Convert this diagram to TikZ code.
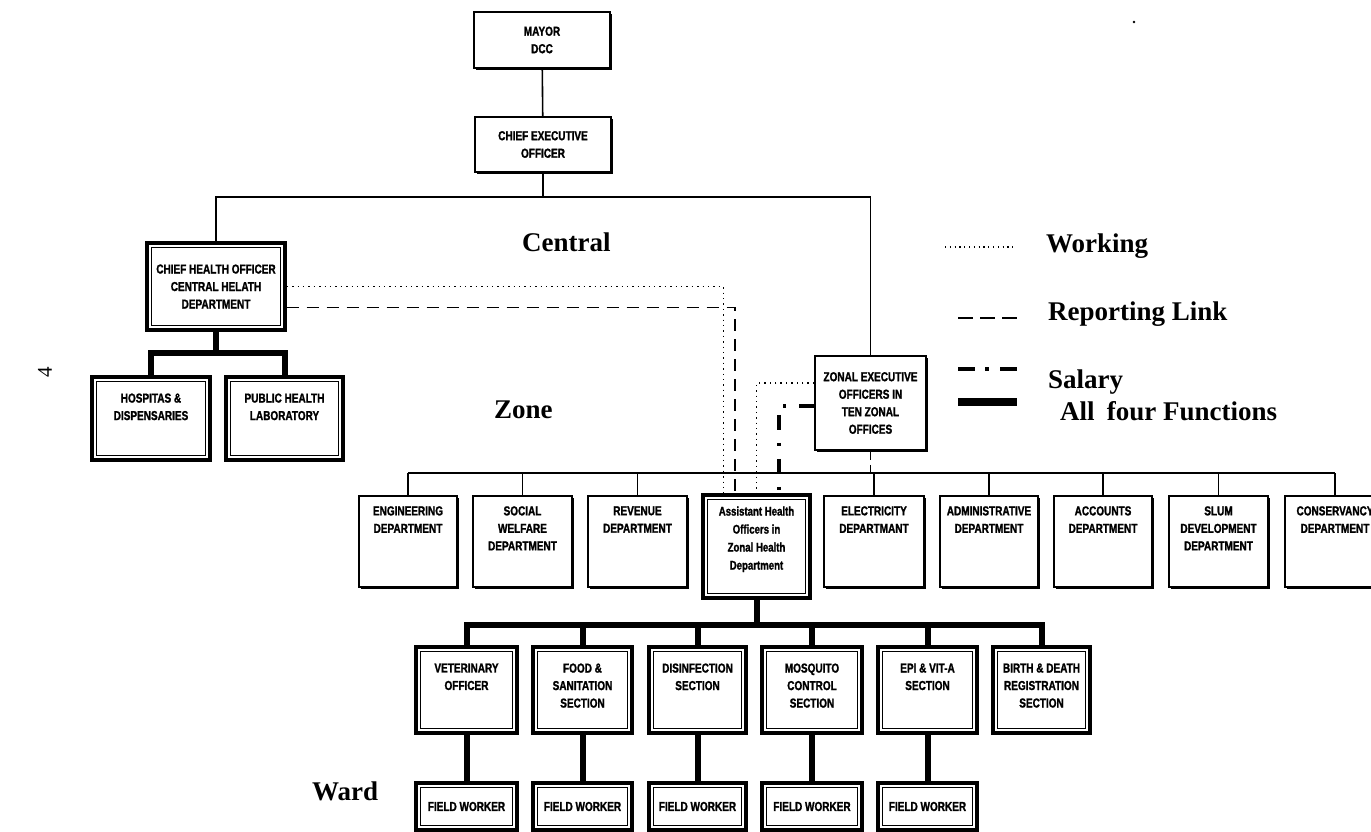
\documentclass[tikz,border=0pt]{standalone}
\usepackage{fontspec}
\setmainfont{Liberation Serif}
\newfontfamily\bx[FakeStretch=0.77,FakeBold=1.4]{Liberation Sans Bold}
\usetikzlibrary{shadows}
\begin{document}
\begin{tikzpicture}[x=1pt,y=-1pt,
  shd/.style={drop shadow={shadow xshift=2.2pt,shadow yshift=-2.2pt,opacity=1,fill=black}},
  box/.style={draw,fill=white,line width=1.8pt,shd,inner sep=0pt},
  dbox/.style={draw,fill=white,line width=3.4pt,shd,inner sep=0pt,
     path picture={\draw[line width=1.1pt] ([shift={(4.8pt,4.8pt)}]path picture bounding box.south west) rectangle ([shift={(-4.8pt,-4.8pt)}]path picture bounding box.north east);}},
  sz/.style 2 args={minimum width=#1pt,minimum height=#2pt},
  txt/.style={font=\bx\fontsize{13}{17.5}\selectfont,align=center,inner sep=0pt},
  lbl/.style={font=\bfseries\fontsize{27}{30}\selectfont,inner sep=0pt,anchor=base west},
  org/.style={line width=1.6pt},
  fourf/.style={line width=6pt},
  working/.style={line width=1.4pt,dash pattern=on 1.4pt off 4pt},
  reporting/.style={line width=1.9pt,dash pattern=on 12pt off 8pt},
  salary/.style={line width=4pt,dash pattern=on 15pt off 13pt on 3pt off 13pt},
]
\useasboundingbox (0,0) rectangle (1371,832);
\clip (0,0) rectangle (1371,832);

% ---------- top ----------
\node[box,sz={136}{56},txt] (mayor) at (542,40) {MAYOR\\DCC};
\node[box,sz={136}{55},txt] (ceo) at (543,144.5) {CHIEF EXECUTIVE\\OFFICER};

% ---------- central ----------
\node[dbox,sz={138}{87},txt] (cho) at (216,286.5) {CHIEF HEALTH OFFICER\\CENTRAL HELATH\\DEPARTMENT};
\node[dbox,sz={118}{83}] (hosp) at (151,418.5) {};
\node[txt,anchor=north] (hosp-t) at ([yshift=-18pt]hosp.north) {HOSPITAS \&\\DISPENSARIES};
\node[dbox,sz={117}{83}] (phl) at (284.5,418.5) {};
\node[txt,anchor=north] (phl-t) at ([yshift=-18pt]phl.north) {PUBLIC HEALTH\\LABORATORY};

% ---------- zone ----------
\node[box,sz={111}{94},txt] (zeo) at (870.5,403) {ZONAL EXECUTIVE\\OFFICERS IN\\TEN ZONAL\\OFFICES};

\foreach \n/\x/\w/\t in {
  eng/408/98/{ENGINEERING\\DEPARTMENT},
  sw/522.5/99/{SOCIAL\\WELFARE\\DEPARTMENT},
  rev/637.5/99/{REVENUE\\DEPARTMENT},
  elec/874/100/{ELECTRICITY\\DEPARTMANT},
  adm/989/98/{ADMINISTRATIVE\\DEPARTMENT},
  acc/1103/98/{ACCOUNTS\\DEPARTMENT},
  slum/1218.5/99/{SLUM\\DEVELOPMENT\\DEPARTMENT},
  cons/1335/100/{CONSERVANCY\\DEPARTMENT}}{
  \node[box,sz={\w}{91}] (\n) at (\x,541.5) {};
  \node[txt,anchor=north] (\n-t) at ([yshift=-11pt]\n.north) {\t};
}

\node[dbox,sz={107}{103}] (aho) at (756.5,546.5) {};
\node[txt,anchor=north,font=\bx\fontsize{12.5}{18}\selectfont] (aho-t) at ([yshift=-13pt]aho.north) {Assistant Health\\Officers in\\Zonal Health\\Department};

% ---------- ward ----------
\foreach \n/\x/\w/\t in {
  vet/466.5/101/{VETERINARY\\OFFICER},
  food/582.5/99/{FOOD \&\\SANITATION\\SECTION},
  dis/697.5/97/{DISINFECTION\\SECTION},
  mos/812/100/{MOSQUITO\\CONTROL\\SECTION},
  epi/927.5/99/{EPI \& VIT-A\\SECTION},
  bd/1041.5/97/{BIRTH \& DEATH\\REGISTRATION\\SECTION}}{
  \node[dbox,sz={\w}{86}] (\n) at (\x,690) {};
  \node[txt,anchor=north] (\n-t) at ([yshift=-18pt]\n.north) {\t};
}
\foreach \n/\x/\w in {fw1/466.5/101,fw2/582.5/99,fw3/697.5/97,fw4/812/100,fw5/927.5/99}{
  \node[dbox,sz={\w}{47},txt] (\n) at (\x,806.5) {FIELD WORKER};
}

% ---------- bar coordinates ----------
\coordinate (bar) at (0,197);
\coordinate (hbar) at (0,353);
\coordinate (dbar) at (0,473);
\coordinate (sbar) at (0,625);

% ---------- connectors ----------
\draw[org] (mayor) -- (ceo);
\draw[org] (ceo.south) -- (ceo.south |- bar);
\draw[org] (cho.north) -- (cho.north |- bar) -- (zeo.north |- bar) -- (zeo.north);

\draw[fourf] (cho.south) -- (cho.south |- hbar);
\draw[fourf,line join=miter] (hosp.north) -- (hosp.north |- hbar) -- (phl.north |- hbar) -- (phl.north);

\draw[org] (eng.north |- dbar) -- (cons.north |- dbar);
\foreach \n in {eng,sw,rev,elec,adm,acc,slum,cons}{
  \draw[org] (\n.north) -- (\n.north |- dbar);
}
\draw[reporting,dash pattern=on 9pt off 5pt] (zeo.south) -- (zeo.south |- dbar);

\draw[working] (cho.east) -| ([xshift=-33pt]aho.north);
\draw[reporting] ([yshift=-21pt]cho.east) -| ([xshift=-21.5pt]aho.north);
\draw[working] ([yshift=20pt]zeo.west) -| (aho.north);
\draw[salary] ([yshift=-3pt]zeo.west) -| ([xshift=22.5pt]aho.north);

\draw[fourf] (aho.south) -- (aho.south |- sbar);
\draw[fourf,line join=miter] (vet.north) -- (vet.north |- sbar) -- (bd.north |- sbar) -- (bd.north);
\foreach \n in {food,dis,mos,epi}{
  \draw[fourf] (\n.north) -- (\n.north |- sbar);
}
\draw[fourf] (vet.south) -- (fw1.north);
\draw[fourf] (food.south) -- (fw2.north);
\draw[fourf] (dis.south) -- (fw3.north);
\draw[fourf] (mos.south) -- (fw4.north);
\draw[fourf] (epi.south) -- (fw5.north);

% ---------- level labels ----------
\node[lbl] (central) at (522,251) {Central};
\node[lbl] (zone) at (494,418) {Zone};
\node[lbl] (ward) at (312,800) {Ward};

% ---------- legend ----------
\coordinate (lw1) at (945,247); \coordinate (lw2) at (1015,247);
\coordinate (lr1) at (958,318); \coordinate (lr2) at (1017,318);
\coordinate (ls1) at (958,369); \coordinate (ls2) at (1017,369);
\coordinate (la1) at (958,402); \coordinate (la2) at (1017,402);
\draw[line width=1.2pt,dash pattern=on 1.2pt off 3.6pt] (lw1) -- (lw2);
\draw[line width=1.9pt,dash pattern=on 15pt off 7pt] (lr1) -- (lr2);
\draw[line width=3.5pt,dash pattern=on 17pt off 10pt on 4pt off 11pt] (ls1) -- (ls2);
\draw[line width=8pt] (la1) -- (la2);
\node[lbl] (lgw) at (1046,252) {Working};
\node[lbl] (lgr) at (1048,320) {Reporting Link};
\node[lbl] (lgs) at (1048,388) {Salary};
\node[lbl] (lga) at (1060,420) {All\hspace{0.45em}four Functions};

% ---------- page number and speck ----------
\node[font=\fontsize{21}{21}\selectfont,rotate=90,inner sep=0pt] (pgno) at (45,372) {4};
\fill (1134,22) circle (1.4pt);
\end{tikzpicture}
\end{document}
